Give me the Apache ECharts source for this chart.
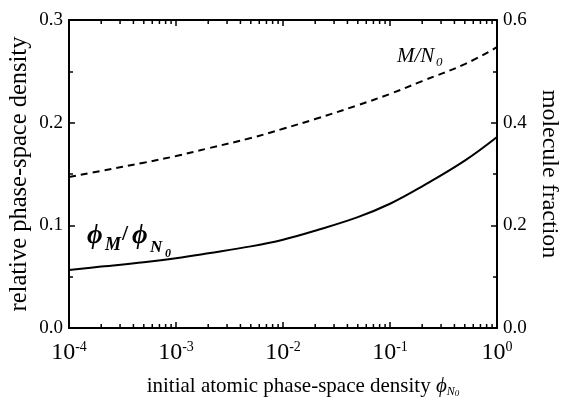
<!DOCTYPE html>
<html><head><meta charset="utf-8">
<script src="https://cdn.jsdelivr.net/npm/echarts@6/dist/echarts.min.js"></script>
<style>html,body{margin:0;padding:0;background:#fff}#c{width:570px;height:401px}</style>
</head><body><div id="c"></div>
<script>
// initial atomic phase-space density (x, log scale)
const xValues = [1e-4, 2e-4, 5e-4, 1e-3, 2e-3, 5e-3, 1e-2, 2e-2, 5e-2, 0.1, 0.2, 0.5, 1];
// phi_M / phi_N0 (left axis)
const phiRatio = [0.0565, 0.0598, 0.0640, 0.068, 0.0728, 0.0795, 0.086, 0.0948, 0.108, 0.121, 0.138, 0.163, 0.186];
// M / N0 molecule fraction (right axis)
const moleculeFraction = [0.294, 0.306, 0.322, 0.335, 0.350, 0.370, 0.388, 0.407, 0.434, 0.456, 0.481, 0.514, 0.547];
// minor log tick positions on the x axis
const minorTickValues = [];
[-4, -3, -2, -1].forEach(d => { for (let k = 2; k <= 9; k++) minorTickValues.push(+(k * Math.pow(10, d)).toPrecision(3)); });

const FONT = '"Liberation Serif", "DejaVu Serif", serif';
const chart = echarts.init(document.getElementById('c'), null, {renderer: 'canvas'});

const axisLineStyle = {color: '#000', width: 2};
const option = {
  backgroundColor: '#fff',
  animation: false,
  grid: {left: 69, right: 73, top: 20, bottom: 73, containLabel: false, outerBoundsMode: 'none'},
  xAxis: [{
    type: 'log', logBase: 10, min: 1e-4, max: 1, position: 'bottom',
    axisLine: {show: true, onZero: false, lineStyle: axisLineStyle},
    axisTick: {show: true, inside: true, length: 6, lineStyle: {color: '#000', width: 1.5}},
    splitLine: {show: false},
    axisLabel: {
      margin: 12, color: '#000', fontFamily: FONT,
      formatter: v => '{b|10}{s|' + Math.round(Math.log10(v)) + '}',
      rich: {
        b: {fontSize: 24, fontFamily: FONT, color: '#000', lineHeight: 26},
        s: {fontSize: 14, fontFamily: FONT, color: '#000', verticalAlign: 'top', lineHeight: 14}
      }
    },
    name: '{n|initial atomic phase-space density }{p|ϕ}{sub|N}{sub0|0}',
    nameLocation: 'middle', nameGap: 46,
    nameTextStyle: {
      padding: [0, 0, 0, 40],
      rich: {
        n: {fontSize: 21, fontFamily: FONT, color: '#000', lineHeight: 24},
        p: {fontSize: 21, fontFamily: FONT, fontStyle: 'italic', color: '#000', lineHeight: 24},
        sub: {fontSize: 12, fontFamily: FONT, fontStyle: 'italic', color: '#000', verticalAlign: 'bottom', lineHeight: 14},
        sub0: {fontSize: 9, fontFamily: FONT, fontStyle: 'italic', color: '#000', verticalAlign: 'bottom', lineHeight: 10}
      }
    }
  }, {
    type: 'log', logBase: 10, min: 1e-4, max: 1, position: 'top',
    axisLine: {show: true, onZero: false, lineStyle: axisLineStyle},
    axisTick: {show: true, inside: true, length: 6, lineStyle: {color: '#000', width: 1.5}},
    axisLabel: {show: false}, splitLine: {show: false}
  }],
  yAxis: [{
    type: 'value', min: 0, max: 0.3, interval: 0.1, position: 'left',
    axisLine: {show: true, onZero: false, lineStyle: axisLineStyle},
    axisTick: {show: true, inside: true, length: 6, lineStyle: {color: '#000', width: 1.5}},
    minorTick: {show: true, splitNumber: 2, length: 4, lineStyle: {color: '#000', width: 1.5}},
    splitLine: {show: false},
    axisLabel: {margin: 6, color: '#000', fontSize: 19, fontFamily: FONT, formatter: v => v.toFixed(1)},
    name: 'relative phase-space density', nameLocation: 'middle', nameGap: 37, nameRotate: 90,
    nameMoveOverlap: false,
    nameTextStyle: {fontSize: 24.5, fontFamily: FONT, color: '#000'}
  }, {
    type: 'value', min: 0, max: 0.6, interval: 0.2, position: 'right',
    axisLine: {show: true, onZero: false, lineStyle: axisLineStyle},
    axisTick: {show: true, inside: true, length: 6, lineStyle: {color: '#000', width: 1.5}},
    minorTick: {show: true, splitNumber: 2, length: 4, lineStyle: {color: '#000', width: 1.5}},
    splitLine: {show: false},
    axisLabel: {margin: 6, color: '#000', fontSize: 19, fontFamily: FONT, formatter: v => v.toFixed(1)},
    name: 'molecule fraction', nameLocation: 'middle', nameGap: 29, nameRotate: -90,
    nameTextStyle: {fontSize: 24, fontFamily: FONT, color: '#000'}
  }],
  series: [{
    name: 'phiRatio', type: 'line', xAxisIndex: 0, yAxisIndex: 0,
    data: xValues.map((x, i) => [x, phiRatio[i]]),
    smooth: 0.4, showSymbol: false,
    lineStyle: {color: '#000', width: 2}
  }, {
    name: 'moleculeFraction', type: 'line', xAxisIndex: 0, yAxisIndex: 1,
    data: xValues.map((x, i) => [x, moleculeFraction[i]]),
    smooth: 0.4, showSymbol: false,
    lineStyle: {color: '#000', width: 2, type: [7, 5]}
  }, {
    name: 'minorTicks', type: 'custom', xAxisIndex: 0, yAxisIndex: 0, silent: true, clip: false,
    data: minorTickValues.map(v => [v, 0]),
    renderItem: (params, api) => {
      const v = api.value(0);
      const b = api.coord([v, 0]);
      const t = api.coord([v, 0.3]);
      return {type: 'group', children: [
        {type: 'line', shape: {x1: b[0], y1: b[1], x2: b[0], y2: b[1] - 4}, style: {stroke: '#000', lineWidth: 1.5}},
        {type: 'line', shape: {x1: t[0], y1: t[1], x2: t[0], y2: t[1] + 4}, style: {stroke: '#000', lineWidth: 1.5}}
      ]};
    }
  }],
  graphic: [
    {type: 'text', x: 87, y: 236, style: {text: 'ϕ', font: 'italic bold 27px ' + FONT, fill: '#000', verticalAlign: 'middle'}},
    {type: 'text', x: 105, y: 245, style: {text: 'M', font: 'italic bold 18px ' + FONT, fill: '#000', verticalAlign: 'middle'}},
    {type: 'text', x: 122, y: 234, style: {text: '/', font: 'bold 22px ' + FONT, fill: '#000', verticalAlign: 'middle'}},
    {type: 'text', x: 132, y: 236, style: {text: 'ϕ', font: 'italic bold 27px ' + FONT, fill: '#000', verticalAlign: 'middle'}},
    {type: 'text', x: 150, y: 248, style: {text: 'N', font: 'italic bold 17px ' + FONT, fill: '#000', verticalAlign: 'middle'}},
    {type: 'text', x: 165, y: 254, style: {text: '0', font: 'italic bold 12px ' + FONT, fill: '#000', verticalAlign: 'middle'}},
    {type: 'text', x: 397, y: 56, style: {text: 'M/N', font: 'italic 21px ' + FONT, fill: '#000', verticalAlign: 'middle'}},
    {type: 'text', x: 436, y: 63, style: {text: '0', font: 'italic 13px ' + FONT, fill: '#000', verticalAlign: 'middle'}}
  ]
};
chart.setOption(option);
</script>
</body></html>
